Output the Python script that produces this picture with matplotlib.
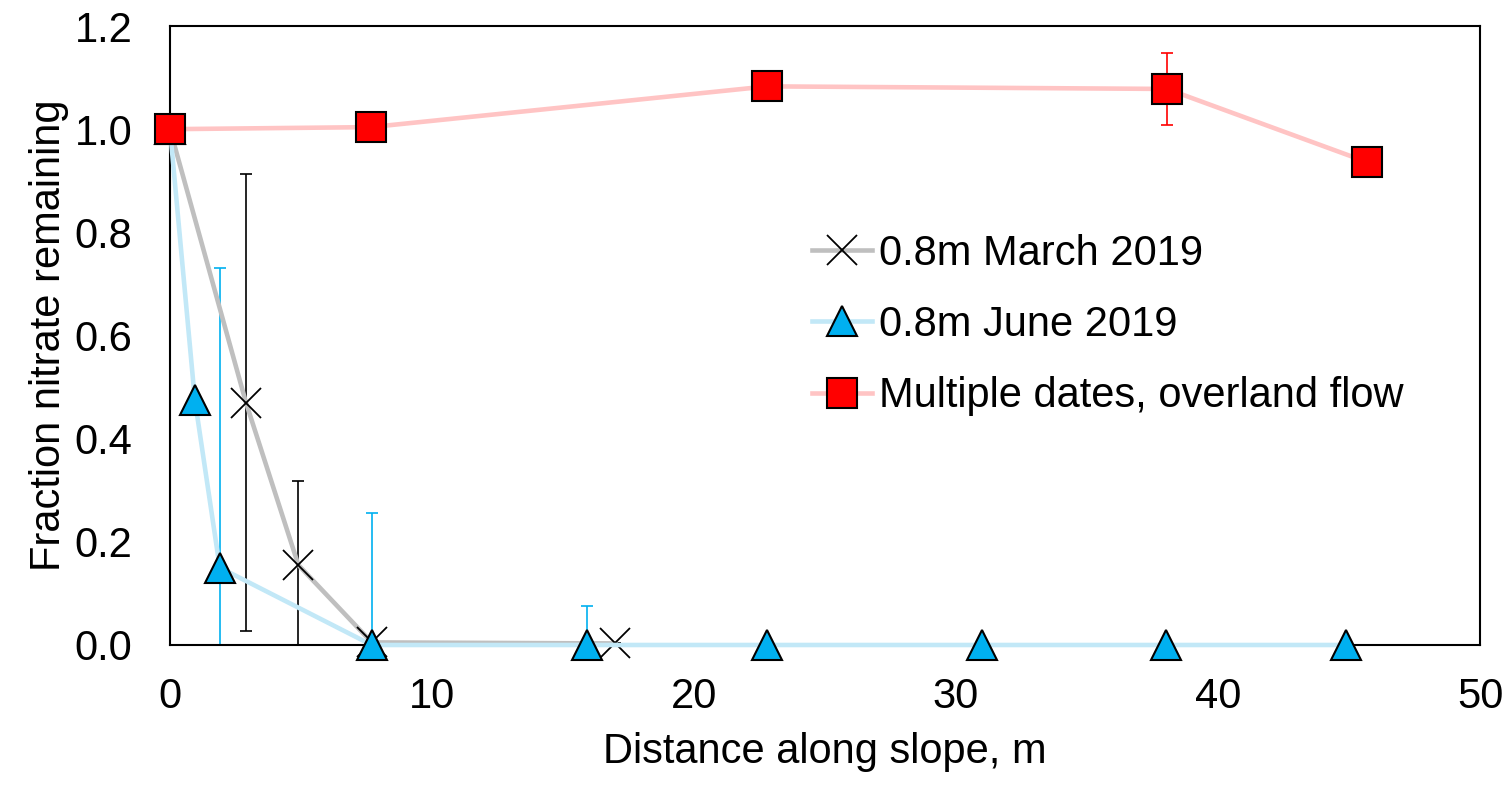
import matplotlib
matplotlib.use("Agg")
import matplotlib.pyplot as plt

plt.rcParams['font.family'] = ['Liberation Sans', 'DejaVu Sans']

# March 2019 series
march_x = [0.0, 2.9, 4.9, 7.7, 17.0]
march_y = [1.0, 0.47, 0.155, 0.005, 0.003]
march_err = [0.0, 0.443, 0.162, 0.0, 0.0]

# June 2019 series
june_x = [0.0, 0.95, 1.9, 7.7, 15.9, 22.8, 31.0, 38.0, 44.9]
june_y = [1.0, 0.475, 0.15, 0.0, 0.0, 0.0, 0.0, 0.0, 0.0]
june_err = [0.0, 0.0, 0.58, 0.255, 0.076, 0.0, 0.0, 0.0, 0.0]

# Multiple dates, overland flow
multi_x = [0.0, 7.67, 22.8, 38.05, 45.7]
multi_y = [1.0, 1.004, 1.083, 1.078, 0.936]
multi_err = [0.0, 0.025, 0.0, 0.07, 0.0]

labels = ["0.8m March 2019", "0.8m June 2019", "Multiple dates, overland flow"]
xticks = [0, 10, 20, 30, 40, 50]
yticks = [0.0, 0.2, 0.4, 0.6, 0.8, 1.0, 1.2]

fig = plt.figure(figsize=(15.11, 7.86), dpi=100)
ax = fig.add_axes([0.1125, 0.1794, 0.8670, 0.7875])

FS = 30

# error bars (clipped to axes)
ax.errorbar(march_x, march_y, yerr=march_err, fmt='none', ecolor='black',
            elinewidth=1.2, capsize=4.5, capthick=1.2, zorder=3)
ax.errorbar(june_x, june_y, yerr=june_err, fmt='none', ecolor='#00B0F0',
            elinewidth=1.2, capsize=4.5, capthick=1.2, zorder=3)
ax.errorbar(multi_x, multi_y, yerr=multi_err, fmt='none', ecolor='#FF0000',
            elinewidth=1.2, capsize=4.5, capthick=1.2, zorder=3)

# lines + markers
l1, = ax.plot(march_x, march_y, color='#BFBFBF', lw=3.3, marker='x',
              markersize=22, markeredgecolor='black', markeredgewidth=1.3,
              clip_on=False, zorder=4, label=labels[0])
l2, = ax.plot(june_x, june_y, color='#C2E8F7', lw=3.3, marker='^',
              markersize=21, markerfacecolor='#00B0F0', markeredgecolor='black',
              markeredgewidth=1.5, clip_on=False, zorder=5, label=labels[1])
l3, = ax.plot(multi_x, multi_y, color='#FFC4C4', lw=3.3, marker='s',
              markersize=21, markerfacecolor='#FF0000', markeredgecolor='black',
              markeredgewidth=1.5, clip_on=False, zorder=6, label=labels[2])

ax.set_xlim(0, 50)
ax.set_ylim(0, 1.2)
ax.set_xticks(xticks)
ax.set_yticks(yticks)
ax.set_xticklabels([str(v) for v in xticks], fontsize=FS)
ax.set_yticklabels([f"{v:.1f}" for v in yticks], fontsize=FS)
ax.tick_params(axis='both', length=0)
ax.tick_params(axis='y', pad=27)
ax.tick_params(axis='x', pad=23)

for s in ax.spines.values():
    s.set_linewidth(1.5)
    s.set_color('black')
    s.set_zorder(4.5)

ax.set_xlabel("Distance along slope, m", fontsize=FS, labelpad=11)
ax.set_ylabel("Fraction nitrate remaining", fontsize=FS, labelpad=4)

leg = ax.legend(handles=[l1, l2, l3], loc='center left',
                bbox_to_anchor=(812 / 1511, 1 - 325 / 786),
                bbox_transform=fig.transFigure, frameon=False, fontsize=FS,
                numpoints=1, handlelength=1.45, handletextpad=0.15,
                labelspacing=0.75, borderpad=0, borderaxespad=0)

fig.savefig("out.png", dpi=100)
